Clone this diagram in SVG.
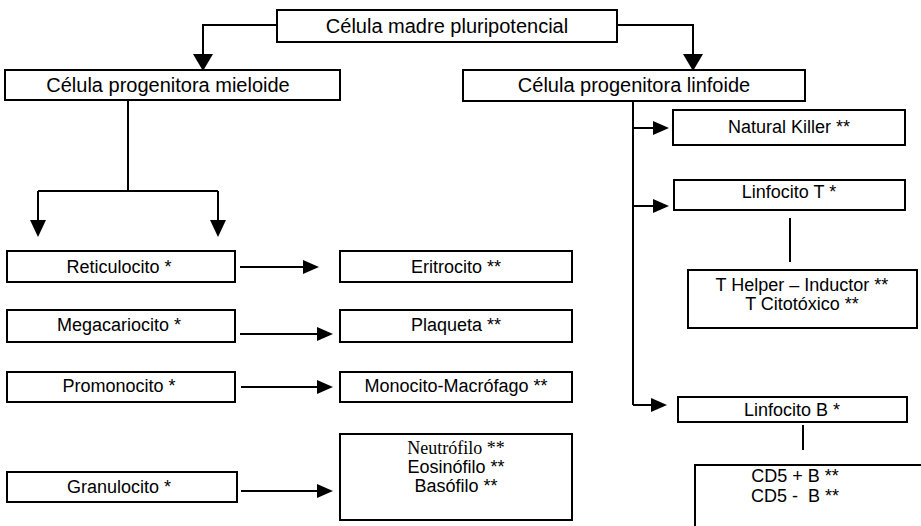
<svg xmlns="http://www.w3.org/2000/svg" width="921" height="526" viewBox="0 0 921 526">
<style>
.box{fill:#fff;stroke:#000;stroke-width:2}
.t{font-family:"Liberation Sans",Arial,sans-serif;font-size:18px;fill:#000;text-anchor:middle}
.h{font-family:"Liberation Sans",Arial,sans-serif;font-size:20px;fill:#000;text-anchor:middle}
.s{font-family:"Liberation Serif","Times New Roman",serif;font-size:18px;fill:#000;text-anchor:middle}
.ln{fill:none;stroke:#000;stroke-width:2}
.ah{fill:#000}
</style>
<rect width="921" height="526" fill="#fff"/>
<g id="connectors">
<path class="ln" d="M277,25 H203 V56"/>
<polygon class="ah" points="193,54 213,54 203,71"/>
<path class="ln" d="M617,25 H693 V56"/>
<polygon class="ah" points="683,54 703,54 693,71"/>
<path class="ln" d="M128,100 V191 M38,191 H218 M38,191 V222 M218,191 V222"/>
<polygon class="ah" points="30,220 46,220 38,237"/>
<polygon class="ah" points="210,220 226,220 218,237"/>
<path class="ln" d="M240,267 H306"/>
<polygon class="ah" points="303,260 303,274 319,267"/>
<path class="ln" d="M240,334 H320"/>
<polygon class="ah" points="317,327 317,341 333,334"/>
<path class="ln" d="M241,387 H320"/>
<polygon class="ah" points="317,380 317,394 333,387"/>
<path class="ln" d="M241,491 H320"/>
<polygon class="ah" points="317,484 317,498 333,491"/>
<path class="ln" d="M633,101 V405"/>
<path class="ln" d="M633,128 H656"/>
<polygon class="ah" points="653,121 653,135 669,128"/>
<path class="ln" d="M633,206 H656"/>
<polygon class="ah" points="653,199 653,213 669,206"/>
<path class="ln" d="M633,405 H654"/>
<polygon class="ah" points="651,398 651,412 667,405"/>
<path class="ln" d="M790,218 V262"/>
<path class="ln" d="M803,425 V450" stroke-width="1.5"/>
</g>
<g id="n-madre"><rect class="box" x="277" y="10" width="340" height="32"/><text class="h" x="447" y="33">Célula madre pluripotencial</text></g>
<g id="n-mieloide"><rect class="box" x="5" y="70" width="335" height="30"/><text class="h" x="168" y="92">Célula progenitora mieloide</text></g>
<g id="n-linfoide"><rect class="box" x="463" y="70" width="342" height="31"/><text class="h" x="634" y="92">Célula progenitora linfoide</text></g>
<g id="n-reticulocito"><rect class="box" x="7" y="251" width="228" height="31"/><text class="t" x="119" y="273">Reticulocito *</text></g>
<g id="n-eritrocito"><rect class="box" x="340" y="251" width="232" height="31"/><text class="t" x="456" y="273">Eritrocito **</text></g>
<g id="n-megacariocito"><rect class="box" x="7" y="310" width="228" height="32"/><text class="t" x="119" y="331">Megacariocito *</text></g>
<g id="n-plaqueta"><rect class="box" x="340" y="310" width="232" height="32"/><text class="t" x="456" y="331">Plaqueta **</text></g>
<g id="n-promonocito"><rect class="box" x="7" y="372" width="228" height="30"/><text class="t" x="119" y="392">Promonocito *</text></g>
<g id="n-monocito"><rect class="box" x="340" y="372" width="232" height="30"/><text class="t" x="456" y="392">Monocito-Macrófago **</text></g>
<g id="n-granulocito"><rect class="box" x="7" y="472" width="230" height="30"/><text class="t" x="119" y="493">Granulocito *</text></g>
<g id="n-granulos"><rect class="box" x="340" y="434" width="232" height="86"/><text class="s" x="456" y="454">Neutrófilo **</text><text class="t" x="456" y="473">Eosinófilo **</text><text class="t" x="456" y="492">Basófilo **</text></g>
<g id="n-nk"><rect class="box" x="673" y="110" width="232" height="35"/><text class="t" x="789" y="133">Natural Killer  **</text></g>
<g id="n-linfot"><rect class="box" x="674" y="180" width="231" height="30"/><text class="t" x="789" y="198">Linfocito T *</text></g>
<g id="n-thelper"><rect class="box" x="688" y="270" width="229" height="58"/><text class="t" x="802" y="291">T Helper – Inductor **</text><text class="t" x="802" y="310">T Citotóxico **</text></g>
<g id="n-linfob"><rect class="box" x="678" y="397" width="229" height="25"/><text class="t" x="792" y="416">Linfocito B *</text></g>
<g id="n-cd5"><path class="ln" d="M695,530 V465 H925"/><text class="t" x="795" y="482">CD5 + B **</text><text class="t" x="795" y="502" xml:space="preserve">CD5 -  B **</text></g>
</svg>
